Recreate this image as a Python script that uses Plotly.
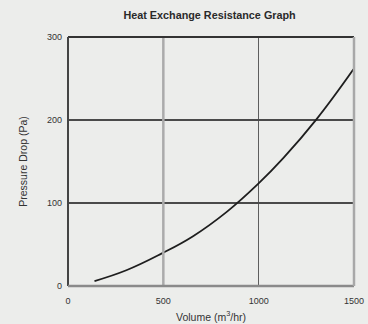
import plotly.graph_objects as go

# Data
volume = [139, 306, 490, 656, 831, 997, 1129, 1304, 1497]
pressure_drop = [6, 19, 39, 60, 89, 123, 154, 201, 261]

x_ticks = [0, 500, 1000, 1500]
y_ticks = [0, 100, 200, 300]

title = "Heat Exchange Resistance Graph"
x_title = "Volume (m<sup>3</sup>/hr)"
y_title = "Pressure Drop (Pa)"

bg = "#ecedeb"
font = dict(family="Liberation Sans, Arial, sans-serif", size=9, color="#333333")

fig = go.Figure()
fig.add_trace(go.Scatter(
    x=volume, y=pressure_drop, mode="lines",
    line=dict(color="#1e1e1e", width=1.8, shape="spline", smoothing=1.2),
    showlegend=False, hoverinfo="skip",
))

# Lighter, thicker gridline at the first interior x tick (scan artefact look)
fig.add_shape(type="line", xref="x", yref="paper", x0=x_ticks[1], x1=x_ticks[1], y0=0, y1=1,
              line=dict(color="#ababab", width=2.5), layer="above")
# Frame: darker top/left, lighter bottom/right
fig.add_shape(type="line", xref="paper", yref="paper", x0=0, x1=1, y0=1, y1=1,
              line=dict(color="#333333", width=2))
fig.add_shape(type="line", xref="paper", yref="paper", x0=0, x1=0, y0=0, y1=1,
              line=dict(color="#444444", width=2))
fig.add_shape(type="line", xref="paper", yref="paper", x0=0, x1=1, y0=0, y1=0,
              line=dict(color="#8a8a8a", width=2.5))
fig.add_shape(type="line", xref="paper", yref="paper", x0=1, x1=1, y0=0, y1=1,
              line=dict(color="#a8a8a8", width=2.5))

fig.update_layout(
    width=368, height=324,
    margin=dict(l=68, r=14, t=37, b=38, autoexpand=False),
    paper_bgcolor=bg, plot_bgcolor=bg,
    font=font,
    title=dict(text="<b>" + title + "</b>", x=0.495, xanchor="center",
               xref="paper", yref="container", y=1 - 15 / 324, yanchor="middle",
               font=dict(size=10.8, color="#2a2a2a")),
    xaxis=dict(range=[x_ticks[0], x_ticks[-1]], tickvals=x_ticks, ticktext=[str(v) for v in x_ticks],
               showgrid=True, gridcolor="#5e5e5e", gridwidth=1, zeroline=False,
               ticks="", showline=False, automargin=False, ticklabelstandoff=8,
               title=dict(text=x_title, standoff=8, font=dict(size=10.5))),
    yaxis=dict(range=[y_ticks[0], y_ticks[-1]], tickvals=y_ticks, ticktext=[str(v) for v in y_ticks],
               showgrid=True, gridcolor="#4a4a4a", gridwidth=1.5, zeroline=False,
               ticks="", showline=False, automargin=False, ticklabelstandoff=5,
               title=dict(text=y_title, standoff=17, font=dict(size=10.5))),
)

fig.write_html("out.html", config={"displayModeBar": False},
               post_script="document.body.style.margin='0';document.body.style.background='%s';" % bg)
